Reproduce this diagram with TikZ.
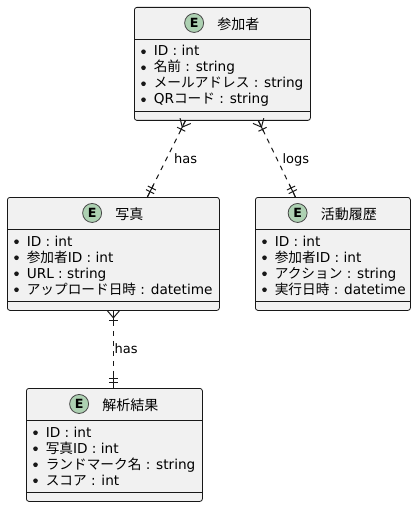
\documentclass[tikz,border=0pt]{standalone}
\usepackage{fontspec}
\setmainfont{DejaVu Sans}
\newfontfamily\jp{Noto Sans CJK JP}
\usetikzlibrary{calc}
\definecolor{boxfill}{RGB}{241,241,241}
\definecolor{boxline}{RGB}{24,24,24}
\definecolor{spotfill}{RGB}{173,209,178}
% many end: crow's foot with one bar
\newcommand{\crowfoot}[2]{%
  \coordinate (cfbar) at ($(#1)!7.1pt!(#2)$);
  \draw[rel, solid] (#1) -- ($(#1)!9pt!(#2)$);
  \draw[rel, solid] ($(#1)!4.5pt!90:(#2)$) -- ($(#1)!5.25pt!(#2)$) -- ($(#1)!4.5pt!-90:(#2)$);
  \draw[rel, solid] ($(cfbar)!3.4pt!90:(#2)$) -- ($(cfbar)!3.4pt!-90:(#2)$);
}
% exactly one end: two bars
\newcommand{\onlyone}[2]{%
  \coordinate (oobar1) at ($(#1)!4.5pt!(#2)$);
  \coordinate (oobar2) at ($(#1)!7.5pt!(#2)$);
  \draw[rel, solid] (#1) -- ($(#1)!10pt!(#2)$);
  \draw[rel, solid] ($(oobar1)!3.4pt!90:(#2)$) -- ($(oobar1)!3.4pt!-90:(#2)$);
  \draw[rel, solid] ($(oobar2)!3.4pt!90:(#2)$) -- ($(oobar2)!3.4pt!-90:(#2)$);
}
\begin{document}
\begin{tikzpicture}
[x=0.75pt, y=-0.75pt,
 entity/.style={draw=boxline, fill=boxfill, line width=0.6pt, rounded corners=1.9pt, anchor=north west, inner sep=0pt, minimum height=84.75pt},
 etitle/.style={anchor=base, inner sep=0pt, font=\jp\fontsize{10.5pt}{12pt}\selectfont},
 spot/.style={circle, draw=boxline!80, fill=spotfill, line width=0.6pt, inner sep=0pt, minimum size=14.25pt, font=\bfseries\fontsize{9.5pt}{10pt}\selectfont},
 field/.style={anchor=base west, inner sep=0pt, font=\fontsize{10.25pt}{12pt}\selectfont},
 sep/.style={draw=boxline, line width=0.6pt},
 rel/.style={draw=boxline, line width=0.75pt, dash pattern=on 3.75pt off 3.75pt},
 rellabel/.style={anchor=base west, inner sep=0pt, font=\fontsize{9.75pt}{11pt}\selectfont}]
\useasboundingbox (0,0) rectangle (416,506);
% entity boxes
\node[entity, minimum width=132pt] (sanka) at (134,7) {};
\node[entity, minimum width=159pt] (shashin) at (7,197) {};
\node[entity, minimum width=116.25pt] (rireki) at (255,197) {};
\node[entity, minimum width=132pt] (kaiseki) at (26,388) {};
\draw[sep] ($(sanka.north west)+(0,32.3)$) -- ($(sanka.north east)+(0,32.3)$);
\draw[sep] ($(sanka.north west)+(0,104.7)$) -- ($(sanka.north east)+(0,104.7)$);
\draw[sep] ($(shashin.north west)+(0,32.3)$) -- ($(shashin.north east)+(0,32.3)$);
\draw[sep] ($(shashin.north west)+(0,104.7)$) -- ($(shashin.north east)+(0,104.7)$);
\draw[sep] ($(rireki.north west)+(0,32.3)$) -- ($(rireki.north east)+(0,32.3)$);
\draw[sep] ($(rireki.north west)+(0,104.7)$) -- ($(rireki.north east)+(0,104.7)$);
\draw[sep] ($(kaiseki.north west)+(0,32.3)$) -- ($(kaiseki.north east)+(0,32.3)$);
\draw[sep] ($(kaiseki.north west)+(0,104.7)$) -- ($(kaiseki.north east)+(0,104.7)$);
% titles
\node[etitle] (sankaT) at ($(sanka.north)+(16,22.5)$) {参加者};
\node[spot] (sankaE) at ([xshift=-17.25pt, yshift=4.9pt]sankaT.base west) {E};
\node[etitle] (shashinT) at ($(shashin.north)+(16,22.5)$) {写真};
\node[spot] (shashinE) at ([xshift=-17.25pt, yshift=4.9pt]shashinT.base west) {E};
\node[etitle] (rirekiT) at ($(rireki.north)+(16,22.5)$) {活動履歴};
\node[spot] (rirekiE) at ([xshift=-17.25pt, yshift=4.9pt]rirekiT.base west) {E};
\node[etitle] (kaisekiT) at ($(kaiseki.north)+(16,22.5)$) {解析結果};
\node[spot] (kaisekiE) at ([xshift=-17.25pt, yshift=4.9pt]kaisekiT.base west) {E};
% fields
\node[field] (sanka1) at ($(sanka.north west)+(19.5,49)$) {ID : int};
\node[field] (sanka2) at ($(sanka.north west)+(19.5,65)$) {{\jp 名前} : string};
\node[field] (sanka3) at ($(sanka.north west)+(19.5,81)$) {{\jp メールアドレス} : string};
\node[field] (sanka4) at ($(sanka.north west)+(19.5,97)$) {QR{\jp コード} : string};
\node[field] (shashin1) at ($(shashin.north west)+(19.5,49)$) {ID : int};
\node[field] (shashin2) at ($(shashin.north west)+(19.5,65)$) {{\jp 参加者}ID : int};
\node[field] (shashin3) at ($(shashin.north west)+(19.5,81)$) {URL : string};
\node[field] (shashin4) at ($(shashin.north west)+(19.5,97)$) {{\jp アップロード日時} : datetime};
\node[field] (rireki1) at ($(rireki.north west)+(19.5,49)$) {ID : int};
\node[field] (rireki2) at ($(rireki.north west)+(19.5,65)$) {{\jp 参加者}ID : int};
\node[field] (rireki3) at ($(rireki.north west)+(19.5,81)$) {{\jp アクション} : string};
\node[field] (rireki4) at ($(rireki.north west)+(19.5,97)$) {{\jp 実行日時} : datetime};
\node[field] (kaiseki1) at ($(kaiseki.north west)+(19.5,49)$) {ID : int};
\node[field] (kaiseki2) at ($(kaiseki.north west)+(19.5,65)$) {{\jp 写真}ID : int};
\node[field] (kaiseki3) at ($(kaiseki.north west)+(19.5,81)$) {{\jp ランドマーク名} : string};
\node[field] (kaiseki4) at ($(kaiseki.north west)+(19.5,97)$) {{\jp スコア} : int};
% bullets
\fill[boxline] ([xshift=-7.5pt, yshift=3.2pt]sanka1.base west) circle[radius=1.75pt];
\fill[boxline] ([xshift=-7.5pt, yshift=3.2pt]sanka2.base west) circle[radius=1.75pt];
\fill[boxline] ([xshift=-7.5pt, yshift=3.2pt]sanka3.base west) circle[radius=1.75pt];
\fill[boxline] ([xshift=-7.5pt, yshift=3.2pt]sanka4.base west) circle[radius=1.75pt];
\fill[boxline] ([xshift=-7.5pt, yshift=3.2pt]shashin1.base west) circle[radius=1.75pt];
\fill[boxline] ([xshift=-7.5pt, yshift=3.2pt]shashin2.base west) circle[radius=1.75pt];
\fill[boxline] ([xshift=-7.5pt, yshift=3.2pt]shashin3.base west) circle[radius=1.75pt];
\fill[boxline] ([xshift=-7.5pt, yshift=3.2pt]shashin4.base west) circle[radius=1.75pt];
\fill[boxline] ([xshift=-7.5pt, yshift=3.2pt]rireki1.base west) circle[radius=1.75pt];
\fill[boxline] ([xshift=-7.5pt, yshift=3.2pt]rireki2.base west) circle[radius=1.75pt];
\fill[boxline] ([xshift=-7.5pt, yshift=3.2pt]rireki3.base west) circle[radius=1.75pt];
\fill[boxline] ([xshift=-7.5pt, yshift=3.2pt]rireki4.base west) circle[radius=1.75pt];
\fill[boxline] ([xshift=-7.5pt, yshift=3.2pt]kaiseki1.base west) circle[radius=1.75pt];
\fill[boxline] ([xshift=-7.5pt, yshift=3.2pt]kaiseki2.base west) circle[radius=1.75pt];
\fill[boxline] ([xshift=-7.5pt, yshift=3.2pt]kaiseki3.base west) circle[radius=1.75pt];
\fill[boxline] ([xshift=-7.5pt, yshift=3.2pt]kaiseki4.base west) circle[radius=1.75pt];
% relations
\coordinate (hasA) at ([xshift=-27.75pt]sanka.south);
\coordinate (hasB) at ([xshift=25.5pt]shashin.north);
\coordinate (logsA) at ([xshift=27pt]sanka.south);
\coordinate (logsB) at ([xshift=-28.125pt]rireki.north);
\coordinate (resA) at (shashin.south);
\coordinate (resB) at (kaiseki.north -| shashin.south);
\draw[rel] (hasA) -- node[rellabel, midway, xshift=5.5pt, yshift=-3.6pt] {has} (hasB);
\draw[rel] (logsA) -- node[rellabel, midway, xshift=3.9pt, yshift=-3.6pt] {logs} (logsB);
\draw[rel] (resA) -- node[rellabel, midway, xshift=0.5pt, yshift=-3.2pt] {has} (resB);
\crowfoot{hasA}{hasB}
\onlyone{hasB}{hasA}
\crowfoot{logsA}{logsB}
\onlyone{logsB}{logsA}
\crowfoot{resA}{resB}
\onlyone{resB}{resA}
\end{tikzpicture}
\end{document}
